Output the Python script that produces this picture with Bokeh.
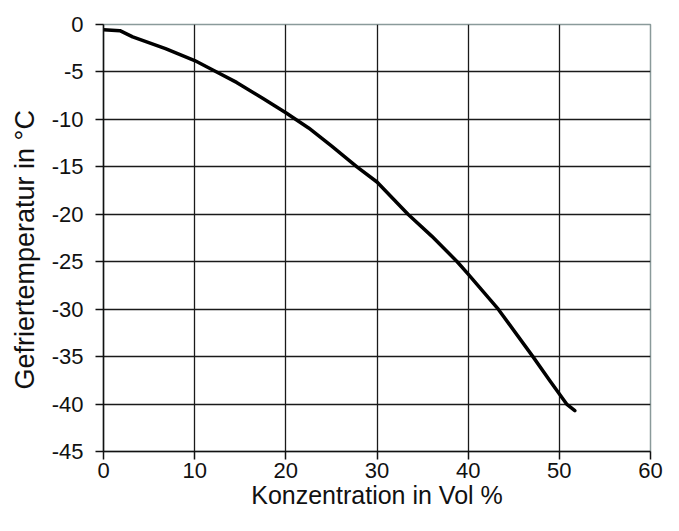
from bokeh.plotting import figure
from bokeh.models import Range1d, FixedTicker, Title
from bokeh.embed import file_html
from bokeh.resources import INLINE

conc = [0, 1.8, 3.2, 6.8, 10, 12.1, 14.6, 17.5, 20, 22.5, 25, 27.8, 30, 33.4, 36, 38.8, 40, 43.3, 47.1, 49, 50.8, 51.7]
temp = [-0.55, -0.65, -1.3, -2.55, -3.8, -4.85, -6.1, -7.8, -9.3, -10.9, -12.8, -15.0, -16.6, -20.0, -22.3, -25.0, -26.3, -30.0, -35.0, -37.6, -40.0, -40.7]

x_ticks = [0, 10, 20, 30, 40, 50, 60]
y_ticks = [0, -5, -10, -15, -20, -25, -30, -35, -40, -45]

x_title = "Konzentration in Vol %"
y_title = "Gefriertemperatur in °C"

FONT = "Liberation Sans"

p = figure(width=663, height=515, output_backend="svg", toolbar_location=None,
           x_range=Range1d(0, 60), y_range=Range1d(-45, 0),
           min_border_left=103, min_border_right=13, min_border_top=24, min_border_bottom=64)

p.outline_line_color = "#8a9a9a"
p.outline_line_width = 1.5

for ax, ticks in ((p.xaxis, x_ticks), (p.yaxis, y_ticks)):
    ax.ticker = FixedTicker(ticks=ticks)
    ax.major_label_overrides = {t: str(t) for t in ticks}
    ax.minor_tick_line_color = None
    ax.major_tick_in = 0
    ax.major_tick_out = 8
    ax.major_tick_line_color = "#111111"
    ax.major_tick_line_width = 1.5
    ax.axis_line_color = "#111111"
    ax.axis_line_width = 1.5
    ax.major_label_text_font = FONT
    ax.major_label_text_font_size = "22px"
    ax.major_label_text_color = "#111111"

p.xaxis.major_label_standoff = 3
p.yaxis.major_label_standoff = 12

p.xaxis.axis_label = x_title
p.xaxis.axis_label_standoff = 0
p.xaxis.axis_label_text_font = FONT
p.xaxis.axis_label_text_font_size = "25px"
p.xaxis.axis_label_text_font_style = "normal"
p.xaxis.axis_label_text_color = "#111111"

p.add_layout(Title(text=y_title, align="left", offset=62, vertical_align="top", standoff=14,
                   text_font=FONT, text_font_size="27px", text_font_style="normal",
                   text_color="#111111"), "left")

p.xgrid.ticker = FixedTicker(ticks=[t for t in x_ticks if t not in (0, 60)])
p.ygrid.ticker = FixedTicker(ticks=[t for t in y_ticks if t not in (0, -45)])
for g in (p.xgrid, p.ygrid):
    g.grid_line_color = "#1a1a1a"
    g.grid_line_width = 1.3
    g.grid_line_alpha = 1.0

p.line(conc, temp, line_color="black", line_width=3.5, line_cap="round", line_join="round")

open("out.html", "w").write(file_html(p, INLINE))
